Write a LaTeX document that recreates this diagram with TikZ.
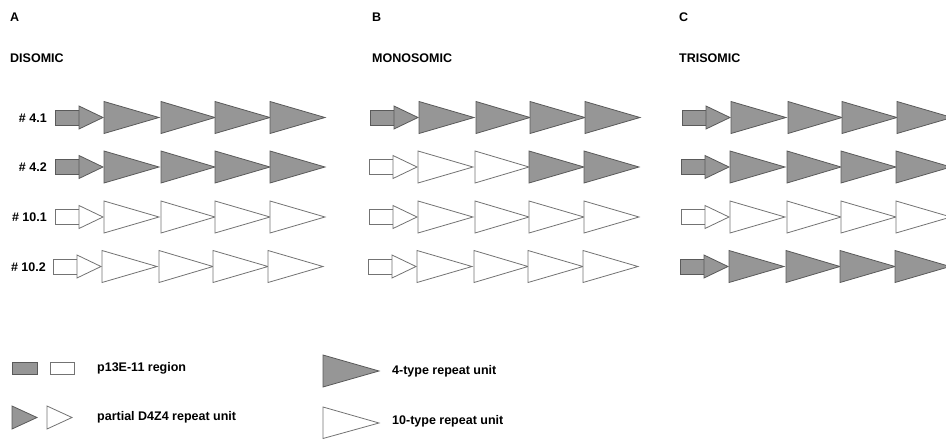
\documentclass[tikz,border=0pt]{standalone}
\usepackage{fontspec}
\setmainfont{Liberation Sans}
\definecolor{RepFour}{RGB}{150,150,150}
\definecolor{RepEdge}{RGB}{90,90,90}

\tikzset{
  four/.style={fill=RepFour,draw=RepEdge,line width=0.8pt,line join=miter},
  ten/.style={fill=white,draw=RepEdge!85,line width=0.8pt,line join=miter},
  lbl/.style={font=\fontsize{12.5}{14}\selectfont\bfseries,inner sep=0pt,
              text height=9.2pt,text depth=0pt,anchor=west},
}

% one array: x, y, p13E-11 box, partial unit, four full units
\newcommand\repeatrow[8]{%
  \begin{scope}[shift={(#1,#2)}]
    \draw[#3] (0,-7.5) rectangle (24,7.5);
    \draw[#4] (24,-11.5) -- (48,0) -- (24,11.5) -- cycle;
    \draw[#5] (49,-16) -- (104,0) -- (49,16) -- cycle;
    \draw[#6] (106,-16) -- (160,0) -- (106,16) -- cycle;
    \draw[#7] (160,-16) -- (215,0) -- (160,16) -- cycle;
    \draw[#8] (215,-16) -- (270,0) -- (215,16) -- cycle;
  \end{scope}}

\begin{document}
\begin{tikzpicture}[x=1pt,y=-1pt]
  \clip (0,0) rectangle (946,439);

  \foreach \x/\p/\c in {10/A/DISOMIC,372/B/MONOSOMIC,679/C/TRISOMIC}{
    \node[lbl] (panel\p) at (\x,17) {\p};
    \node[lbl] (case\p) at (\x,58) {\c};
  }

  \node[lbl,anchor=east] (row41) at (47,117.5) {\# 4.1};
  \node[lbl,anchor=east] (row42) at (47,167) {\# 4.2};
  \node[lbl,anchor=east] (row101) at (47,217) {\# 10.1};
  \node[lbl,anchor=east] (row102) at (46,266.5) {\# 10.2};

  % A
  \repeatrow{55}{117.5}{four}{four}{four}{four}{four}{four}
  \repeatrow{55}{167}{four}{four}{four}{four}{four}{four}
  \repeatrow{55}{217}{ten}{ten}{ten}{ten}{ten}{ten}
  \repeatrow{53}{266.5}{ten}{ten}{ten}{ten}{ten}{ten}
  % B
  \repeatrow{370}{117.5}{four}{four}{four}{four}{four}{four}
  \repeatrow{369}{167}{ten}{ten}{ten}{ten}{four}{four}
  \repeatrow{369}{217}{ten}{ten}{ten}{ten}{ten}{ten}
  \repeatrow{368}{266.5}{ten}{ten}{ten}{ten}{ten}{ten}
  % C
  \repeatrow{682}{117.5}{four}{four}{four}{four}{four}{four}
  \repeatrow{681}{167}{four}{four}{four}{four}{four}{four}
  \repeatrow{681}{217}{ten}{ten}{ten}{ten}{ten}{ten}
  \repeatrow{680}{266.5}{four}{four}{four}{four}{four}{four}

  % legend
  \draw[four] (12,362) rectangle (37,374);
  \draw[ten] (50,362) rectangle (74,374);
  \node[lbl] (keyregion) at (97,367) {p13E-11 region};

  \draw[four] (12,406) -- (37,417.5) -- (12,429) -- cycle;
  \draw[ten] (47,406) -- (72,417.5) -- (47,429) -- cycle;
  \node[lbl] (keypartial) at (97,416) {partial D4Z4 repeat unit};

  \draw[four] (323,355) -- (379,371) -- (323,387) -- cycle;
  \node[lbl] (keyfour) at (392,370) {4-type repeat unit};
  \draw[ten] (323,407) -- (379,423) -- (323,438.5) -- cycle;
  \node[lbl] (keyten) at (392,420) {10-type repeat unit};
\end{tikzpicture}
\end{document}
